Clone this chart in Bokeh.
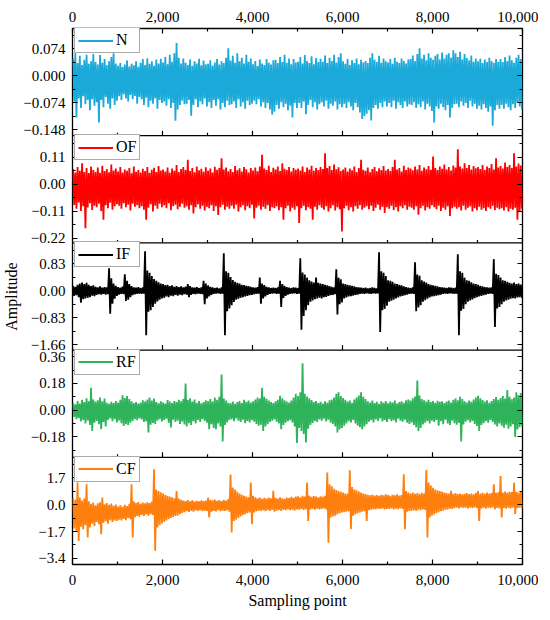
from bokeh.plotting import figure
from bokeh.models import (Range1d, LinearAxis, FixedTicker, Span, Legend, LegendItem)
from bokeh.embed import file_html
from bokeh.resources import INLINE

# ---------------- data (per-bin envelope, 50 samples per bin) -------------
N_SAMPLES = 10000
x_ticks = [0, 2000, 4000, 6000, 8000, 10000]
x_tick_labels = ["0", "2,000", "4,000", "6,000", "8,000", "10,000"]
x_minor_ticks = [1000, 3000, 5000, 7000, 9000]

names = ["N", "OF", "IF", "RF", "CF"]

N_hi = [0.048, 0.062, 0.035, 0.055, 0.030, 0.044, 0.058, 0.033, 0.040, 0.060,
        0.038, 0.031, 0.057, 0.036, 0.046, 0.029, 0.040, 0.052, 0.062, 0.034,
        0.028, 0.035, 0.024, 0.031, 0.042, 0.026, 0.033, 0.029, 0.040, 0.025,
        0.036, 0.046, 0.030, 0.048, 0.033, 0.040, 0.028, 0.045, 0.034, 0.047,
        0.037, 0.052, 0.032, 0.058, 0.039, 0.062, 0.090, 0.050, 0.034, 0.048,
        0.036, 0.030, 0.045, 0.028, 0.040, 0.034, 0.047, 0.029, 0.042, 0.032,
        0.033, 0.043, 0.028, 0.037, 0.046, 0.031, 0.040, 0.035, 0.050, 0.076,
        0.042, 0.055, 0.036, 0.062, 0.040, 0.050, 0.034, 0.058, 0.039, 0.048,
        0.032, 0.041, 0.027, 0.045, 0.034, 0.030, 0.046, 0.036, 0.031, 0.043,
        0.044, 0.035, 0.052, 0.038, 0.058, 0.036, 0.048, 0.032, 0.046, 0.037,
        0.039, 0.052, 0.034, 0.057, 0.041, 0.035, 0.054, 0.032, 0.049, 0.038,
        0.047, 0.039, 0.056, 0.035, 0.050, 0.041, 0.058, 0.037, 0.052, 0.062,
        0.040, 0.033, 0.046, 0.030, 0.043, 0.035, 0.048, 0.032, 0.044, 0.037,
        0.041, 0.035, 0.050, 0.062, 0.044, 0.038, 0.055, 0.036, 0.048, 0.040,
        0.037, 0.046, 0.033, 0.050, 0.039, 0.035, 0.048, 0.041, 0.034, 0.045,
        0.046, 0.056, 0.040, 0.060, 0.076, 0.048, 0.058, 0.043, 0.062, 0.050,
        0.044, 0.055, 0.060, 0.045, 0.064, 0.048, 0.058, 0.062, 0.050, 0.070,
        0.062, 0.052, 0.066, 0.045, 0.060, 0.049, 0.042, 0.056, 0.039, 0.048,
        0.040, 0.047, 0.035, 0.045, 0.038, 0.050, 0.041, 0.036, 0.046, 0.039,
        0.046, 0.038, 0.052, 0.041, 0.056, 0.043, 0.036, 0.050, 0.058, 0.046]
N_lo = [-0.070, -0.114, -0.062, -0.088, -0.056, -0.078, -0.066, -0.094, -0.064, -0.082,
        -0.072, -0.128, -0.066, -0.086, -0.058, -0.076, -0.090, -0.062, -0.080, -0.068,
        -0.056, -0.066, -0.050, -0.062, -0.070, -0.052, -0.064, -0.055, -0.076, -0.058,
        -0.064, -0.080, -0.060, -0.086, -0.068, -0.076, -0.062, -0.090, -0.066, -0.074,
        -0.070, -0.082, -0.064, -0.088, -0.074, -0.123, -0.092, -0.080, -0.068, -0.078,
        -0.076, -0.066, -0.109, -0.080, -0.064, -0.086, -0.070, -0.078, -0.062, -0.084,
        -0.072, -0.088, -0.066, -0.082, -0.064, -0.092, -0.074, -0.086, -0.068, -0.080,
        -0.078, -0.070, -0.088, -0.064, -0.084, -0.072, -0.090, -0.068, -0.080, -0.076,
        -0.068, -0.078, -0.064, -0.084, -0.072, -0.088, -0.074, -0.092, -0.106, -0.098,
        -0.080, -0.090, -0.072, -0.086, -0.076, -0.094, -0.082, -0.114, -0.074, -0.088,
        -0.074, -0.088, -0.070, -0.105, -0.080, -0.066, -0.086, -0.072, -0.092, -0.078,
        -0.072, -0.084, -0.068, -0.090, -0.076, -0.082, -0.070, -0.092, -0.078, -0.086,
        -0.076, -0.088, -0.072, -0.084, -0.094, -0.074, -0.086, -0.100, -0.118, -0.110,
        -0.104, -0.094, -0.122, -0.088, -0.080, -0.090, -0.074, -0.086, -0.070, -0.084,
        -0.074, -0.086, -0.068, -0.090, -0.072, -0.080, -0.088, -0.070, -0.084, -0.078,
        -0.080, -0.072, -0.088, -0.078, -0.086, -0.070, -0.092, -0.076, -0.084, -0.096,
        -0.128, -0.084, -0.090, -0.076, -0.086, -0.094, -0.080, -0.114, -0.088, -0.078,
        -0.076, -0.086, -0.070, -0.082, -0.074, -0.088, -0.068, -0.084, -0.076, -0.090,
        -0.082, -0.092, -0.078, -0.088, -0.098, -0.084, -0.137, -0.094, -0.080, -0.090,
        -0.080, -0.090, -0.076, -0.086, -0.094, -0.078, -0.088, -0.074, -0.084, -0.092]

OF_hi = [0.062, 0.048, 0.070, 0.055, 0.085, 0.050, 0.066, 0.045, 0.072, 0.058,
         0.050, 0.068, 0.046, 0.075, 0.054, 0.062, 0.049, 0.080, 0.056, 0.064,
         0.052, 0.070, 0.047, 0.060, 0.055, 0.066, 0.044, 0.072, 0.051, 0.058,
         0.048, 0.063, 0.054, 0.070, 0.046, 0.059, 0.067, 0.050, 0.074, 0.056,
         0.060, 0.052, 0.068, 0.047, 0.064, 0.055, 0.078, 0.050, 0.062, 0.070,
         0.058, 0.100, 0.054, 0.066, 0.049, 0.072, 0.057, 0.063, 0.051, 0.069,
         0.055, 0.064, 0.048, 0.071, 0.059, 0.066, 0.106, 0.060, 0.068, 0.053,
         0.062, 0.050, 0.074, 0.057, 0.065, 0.052, 0.070, 0.061, 0.048, 0.066,
         0.056, 0.068, 0.053, 0.072, 0.120, 0.064, 0.058, 0.075, 0.050, 0.067,
         0.060, 0.072, 0.054, 0.085, 0.063, 0.058, 0.070, 0.052, 0.066, 0.059,
         0.064, 0.056, 0.072, 0.050, 0.068, 0.060, 0.075, 0.055, 0.066, 0.058,
         0.070, 0.062, 0.126, 0.066, 0.074, 0.058, 0.080, 0.061, 0.069, 0.054,
         0.060, 0.068, 0.052, 0.064, 0.057, 0.072, 0.050, 0.066, 0.100, 0.059,
         0.055, 0.068, 0.049, 0.062, 0.070, 0.053, 0.065, 0.058, 0.074, 0.056,
         0.062, 0.054, 0.070, 0.100, 0.060, 0.066, 0.052, 0.075, 0.058, 0.068,
         0.064, 0.057, 0.072, 0.060, 0.078, 0.055, 0.068, 0.061, 0.074, 0.059,
         0.113, 0.066, 0.058, 0.072, 0.063, 0.080, 0.060, 0.070, 0.056, 0.076,
         0.068, 0.143, 0.072, 0.064, 0.085, 0.066, 0.078, 0.060, 0.074, 0.065,
         0.070, 0.062, 0.078, 0.058, 0.072, 0.066, 0.082, 0.060, 0.106, 0.068,
         0.074, 0.064, 0.088, 0.070, 0.078, 0.066, 0.126, 0.072, 0.084, 0.076]
OF_lo = [-0.085, -0.100, -0.075, -0.110, -0.090, -0.180, -0.095, -0.078, -0.105, -0.088,
         -0.094, -0.080, -0.110, -0.145, -0.086, -0.098, -0.076, -0.104, -0.090, -0.082,
         -0.088, -0.100, -0.078, -0.094, -0.084, -0.108, -0.080, -0.092, -0.086, -0.098,
         -0.090, -0.104, -0.145, -0.096, -0.082, -0.112, -0.088, -0.100, -0.080, -0.094,
         -0.086, -0.098, -0.078, -0.106, -0.090, -0.084, -0.102, -0.092, -0.080, -0.096,
         -0.090, -0.104, -0.086, -0.120, -0.094, -0.082, -0.100, -0.088, -0.108, -0.092,
         -0.098, -0.086, -0.110, -0.090, -0.126, -0.094, -0.084, -0.104, -0.092, -0.100,
         -0.088, -0.100, -0.084, -0.112, -0.094, -0.086, -0.106, -0.090, -0.098, -0.084,
         -0.140, -0.096, -0.088, -0.104, -0.092, -0.100, -0.086, -0.110, -0.094, -0.098,
         -0.090, -0.106, -0.094, -0.145, -0.098, -0.088, -0.112, -0.096, -0.104, -0.090,
         -0.159, -0.098, -0.088, -0.106, -0.094, -0.100, -0.145, -0.092, -0.104, -0.086,
         -0.096, -0.104, -0.090, -0.112, -0.098, -0.086, -0.108, -0.094, -0.102, -0.193,
         -0.098, -0.088, -0.106, -0.094, -0.112, -0.090, -0.100, -0.086, -0.104, -0.096,
         -0.090, -0.102, -0.088, -0.110, -0.096, -0.084, -0.104, -0.092, -0.118, -0.094,
         -0.100, -0.088, -0.106, -0.094, -0.112, -0.090, -0.098, -0.086, -0.104, -0.092,
         -0.096, -0.104, -0.090, -0.125, -0.098, -0.088, -0.108, -0.094, -0.100, -0.086,
         -0.094, -0.102, -0.088, -0.110, -0.096, -0.104, -0.090, -0.130, -0.098, -0.092,
         -0.100, -0.094, -0.108, -0.088, -0.104, -0.096, -0.090, -0.112, -0.098, -0.106,
         -0.092, -0.104, -0.098, -0.110, -0.094, -0.100, -0.088, -0.106, -0.096, -0.102,
         -0.098, -0.108, -0.094, -0.112, -0.100, -0.104, -0.096, -0.145, -0.110, -0.100]

IF_hi = [0.15, 0.12, 0.18, 0.22, 0.25, 0.20, 0.24, 0.18, 0.14, 0.16,
         0.12, 0.10, 0.13, 0.09, 0.11, 0.10, 0.69, 0.38, 0.22, 0.15,
         0.11, 0.09, 0.12, 0.50, 0.30, 0.20, 0.14, 0.10, 0.09, 0.11,
         0.08, 0.10, 1.21, 0.62, 0.55, 0.45, 0.36, 0.30, 0.26, 0.22,
         0.20, 0.17, 0.18, 0.14, 0.16, 0.12, 0.14, 0.11, 0.13, 0.10,
         0.12, 0.20, 0.14, 0.10, 0.09, 0.11, 0.08, 0.10, 0.30, 0.22,
         0.16, 0.12, 0.10, 0.08, 0.09, 0.07, 0.10, 1.15, 0.60, 0.55,
         0.42, 0.33, 0.27, 0.24, 0.22, 0.18, 0.17, 0.15, 0.14, 0.12,
         0.10, 0.09, 0.11, 0.40, 0.22, 0.17, 0.12, 0.10, 0.08, 0.09,
         0.08, 0.10, 0.30, 0.20, 0.15, 0.11, 0.09, 0.08, 0.10, 0.09,
         0.08, 1.00, 0.56, 0.50, 0.40, 0.32, 0.28, 0.25, 0.40, 0.24,
         0.22, 0.20, 0.18, 0.16, 0.14, 0.12, 0.10, 0.66, 0.40, 0.35,
         0.22, 0.20, 0.18, 0.16, 0.15, 0.13, 0.11, 0.10, 0.09, 0.08,
         0.09, 0.07, 0.08, 0.10, 0.08, 0.07, 1.18, 0.60, 0.55, 0.45,
         0.32, 0.30, 0.27, 0.22, 0.20, 0.18, 0.16, 0.13, 0.11, 0.09,
         0.08, 0.10, 0.87, 0.50, 0.46, 0.32, 0.28, 0.25, 0.20, 0.18,
         0.16, 0.15, 0.13, 0.11, 0.10, 0.09, 0.08, 0.10, 0.09, 0.08,
         0.09, 1.12, 0.60, 0.55, 0.40, 0.32, 0.30, 0.26, 0.22, 0.20,
         0.18, 0.15, 0.13, 0.11, 0.10, 0.09, 0.10, 0.97, 0.52, 0.48,
         0.40, 0.32, 0.30, 0.27, 0.24, 0.22, 0.25, 0.20, 0.22, 0.19]
IF_lo = [-0.16, -0.14, -0.20, -0.37, -0.26, -0.24, -0.22, -0.20, -0.15, -0.17,
         -0.13, -0.11, -0.12, -0.10, -0.12, -0.11, -0.71, -0.40, -0.25, -0.16,
         -0.12, -0.10, -0.11, -0.32, -0.28, -0.20, -0.14, -0.11, -0.10, -0.09,
         -0.10, -0.09, -1.37, -0.65, -0.60, -0.50, -0.40, -0.33, -0.28, -0.24,
         -0.22, -0.18, -0.20, -0.15, -0.17, -0.13, -0.15, -0.12, -0.14, -0.11,
         -0.12, -0.20, -0.13, -0.10, -0.11, -0.09, -0.10, -0.11, -0.42, -0.24,
         -0.18, -0.13, -0.10, -0.09, -0.08, -0.10, -0.09, -1.37, -0.63, -0.55,
         -0.45, -0.35, -0.28, -0.25, -0.22, -0.20, -0.18, -0.16, -0.14, -0.13,
         -0.11, -0.10, -0.09, -0.40, -0.24, -0.18, -0.13, -0.10, -0.09, -0.08,
         -0.10, -0.09, -0.50, -0.22, -0.16, -0.12, -0.10, -0.09, -0.08, -0.10,
         -0.09, -1.20, -0.78, -0.60, -0.45, -0.34, -0.30, -0.26, -0.24, -0.22,
         -0.24, -0.20, -0.19, -0.16, -0.14, -0.13, -0.11, -0.73, -0.42, -0.36,
         -0.24, -0.21, -0.18, -0.17, -0.15, -0.13, -0.12, -0.10, -0.09, -0.10,
         -0.08, -0.09, -0.10, -0.08, -0.09, -0.08, -1.27, -0.60, -0.56, -0.46,
         -0.34, -0.31, -0.28, -0.24, -0.21, -0.18, -0.16, -0.14, -0.12, -0.10,
         -0.09, -0.10, -0.63, -0.52, -0.45, -0.34, -0.29, -0.25, -0.21, -0.18,
         -0.17, -0.15, -0.14, -0.12, -0.10, -0.09, -0.10, -0.08, -0.09, -0.10,
         -0.09, -1.37, -0.62, -0.56, -0.42, -0.34, -0.30, -0.27, -0.23, -0.20,
         -0.18, -0.16, -0.14, -0.12, -0.10, -0.09, -0.10, -1.12, -0.55, -0.50,
         -0.42, -0.34, -0.30, -0.28, -0.25, -0.23, -0.24, -0.21, -0.20, -0.22]

RF_hi = [0.050, 0.040, 0.062, 0.045, 0.070, 0.055, 0.080, 0.060, 0.150, 0.072,
         0.058, 0.066, 0.085, 0.060, 0.078, 0.050, 0.042, 0.056, 0.048, 0.062,
         0.052, 0.070, 0.100, 0.082, 0.095, 0.075, 0.060, 0.048, 0.055, 0.044,
         0.050, 0.066, 0.058, 0.072, 0.085, 0.064, 0.078, 0.055, 0.046, 0.060,
         0.052, 0.044, 0.068, 0.058, 0.048, 0.062, 0.054, 0.070, 0.060, 0.075,
         0.180, 0.068, 0.080, 0.058, 0.072, 0.050, 0.062, 0.046, 0.054, 0.066,
         0.060, 0.075, 0.058, 0.085, 0.070, 0.090, 0.240, 0.078, 0.065, 0.050,
         0.046, 0.058, 0.042, 0.054, 0.062, 0.048, 0.070, 0.056, 0.064, 0.052,
         0.060, 0.072, 0.085, 0.078, 0.150, 0.090, 0.076, 0.064, 0.055, 0.048,
         0.060, 0.070, 0.097, 0.080, 0.066, 0.058, 0.052, 0.064, 0.085, 0.110,
         0.095, 0.120, 0.315, 0.110, 0.092, 0.080, 0.068, 0.055, 0.062, 0.048,
         0.056, 0.044, 0.060, 0.050, 0.066, 0.072, 0.085, 0.110, 0.120, 0.095,
         0.082, 0.070, 0.058, 0.064, 0.050, 0.072, 0.085, 0.098, 0.120, 0.090,
         0.075, 0.060, 0.052, 0.065, 0.048, 0.056, 0.042, 0.060, 0.050, 0.062,
         0.046, 0.058, 0.052, 0.064, 0.044, 0.055, 0.060, 0.050, 0.066, 0.072,
         0.064, 0.080, 0.092, 0.200, 0.098, 0.075, 0.066, 0.058, 0.070, 0.054,
         0.062, 0.050, 0.063, 0.056, 0.060, 0.048, 0.058, 0.064, 0.052, 0.070,
         0.078, 0.066, 0.090, 0.075, 0.060, 0.052, 0.064, 0.056, 0.072, 0.085,
         0.097, 0.080, 0.068, 0.058, 0.066, 0.050, 0.062, 0.075, 0.088, 0.070,
         0.082, 0.095, 0.078, 0.135, 0.090, 0.074, 0.085, 0.120, 0.100, 0.115]
RF_lo = [-0.045, -0.060, -0.052, -0.075, -0.066, -0.090, -0.070, -0.100, -0.140, -0.085,
         -0.072, -0.095, -0.128, -0.080, -0.110, -0.066, -0.055, -0.074, -0.060, -0.082,
         -0.070, -0.088, -0.106, -0.095, -0.100, -0.085, -0.072, -0.060, -0.068, -0.055,
         -0.062, -0.080, -0.075, -0.150, -0.098, -0.086, -0.092, -0.070, -0.060, -0.076,
         -0.066, -0.058, -0.084, -0.117, -0.064, -0.080, -0.070, -0.092, -0.078, -0.096,
         -0.110, -0.088, -0.100, -0.074, -0.090, -0.066, -0.080, -0.060, -0.072, -0.085,
         -0.128, -0.095, -0.120, -0.128, -0.090, -0.110, -0.210, -0.100, -0.082, -0.066,
         -0.060, -0.074, -0.056, -0.070, -0.080, -0.064, -0.088, -0.072, -0.082, -0.068,
         -0.078, -0.092, -0.105, -0.098, -0.140, -0.110, -0.094, -0.080, -0.070, -0.062,
         -0.078, -0.090, -0.128, -0.100, -0.084, -0.074, -0.068, -0.082, -0.110, -0.220,
         -0.120, -0.140, -0.160, -0.218, -0.125, -0.100, -0.086, -0.072, -0.080, -0.062,
         -0.070, -0.058, -0.076, -0.064, -0.084, -0.092, -0.110, -0.150, -0.130, -0.120,
         -0.105, -0.090, -0.074, -0.082, -0.066, -0.090, -0.105, -0.115, -0.128, -0.110,
         -0.095, -0.078, -0.068, -0.082, -0.062, -0.072, -0.056, -0.076, -0.066, -0.080,
         -0.060, -0.074, -0.068, -0.082, -0.058, -0.070, -0.078, -0.064, -0.084, -0.092,
         -0.082, -0.100, -0.115, -0.140, -0.120, -0.096, -0.084, -0.074, -0.090, -0.070,
         -0.080, -0.066, -0.105, -0.074, -0.095, -0.064, -0.090, -0.100, -0.070, -0.088,
         -0.098, -0.084, -0.210, -0.096, -0.078, -0.068, -0.082, -0.072, -0.092, -0.106,
         -0.140, -0.100, -0.088, -0.074, -0.084, -0.066, -0.080, -0.096, -0.110, -0.090,
         -0.104, -0.118, -0.098, -0.125, -0.110, -0.094, -0.180, -0.130, -0.115, -0.105]

CF_hi = [0.40, 0.30, 1.39, 0.45, 0.25, 0.38, 1.28, 0.20, 0.05, 0.12,
         -0.05, 0.08, 0.15, 0.44, 0.02, 0.10, -0.02, 0.06, -0.08, 0.00,
         -0.12, -0.05, -0.15, -0.02, -0.10, 0.05, 1.28, 0.20, 0.10, 0.15,
         0.05, 0.12, 0.08, 0.14, 0.10, 0.18, 2.23, 0.95, 0.86, 0.78,
         0.70, 0.62, 0.55, 0.50, 0.45, 0.40, 0.86, 0.38, 0.30, 0.25,
         0.22, 0.28, 0.20, 0.26, 0.18, 0.24, 0.20, 0.27, 0.22, 0.25,
         0.44, 0.30, 0.26, 0.32, 0.24, 0.28, 0.22, 0.30, 0.25, 0.35,
         1.90, 1.07, 0.95, 0.80, 0.70, 0.62, 0.55, 0.50, 0.45, 1.39,
         0.55, 0.45, 0.40, 0.44, 0.36, 0.42, 0.38, 0.44, 0.40, 0.86,
         0.42, 0.38, 0.45, 0.40, 0.36, 0.44, 0.41, 0.48, 0.43, 0.50,
         0.52, 0.46, 0.55, 0.50, 1.39, 0.56, 0.48, 0.54, 0.50, 0.46,
         0.52, 0.48, 0.55, 2.02, 1.28, 1.15, 1.00, 0.92, 0.85, 0.80,
         0.75, 0.70, 0.68, 2.16, 1.10, 0.95, 0.90, 0.82, 0.75, 0.70,
         0.66, 0.62, 0.58, 0.62, 0.56, 0.60, 0.55, 0.62, 0.58, 0.65,
         0.60, 0.55, 0.62, 0.58, 0.64, 0.56, 0.60, 1.91, 0.85, 0.76,
         0.70, 0.76, 0.68, 0.72, 0.66, 0.74, 0.70, 2.18, 1.39, 1.20,
         1.05, 0.95, 0.90, 0.85, 0.80, 0.76, 0.72, 0.70, 0.86, 0.68,
         0.72, 0.66, 0.70, 0.64, 0.68, 0.72, 0.66, 0.70, 0.65, 0.74,
         0.86, 0.70, 0.74, 0.68, 0.76, 0.70, 0.72, 1.28, 0.74, 0.78,
         1.80, 0.76, 0.82, 0.74, 0.80, 0.78, 1.39, 0.80, 0.76, 0.82]
CF_lo = [-1.50, -1.66, -2.29, -1.40, -1.55, -1.30, -2.08, -1.45, -1.20, -1.35,
         -1.10, -1.24, -1.87, -1.15, -1.05, -1.20, -0.98, -1.10, -1.00, -1.03,
         -0.95, -1.00, -0.90, -0.98, -0.85, -0.92, -2.08, -0.80, -0.71, -0.76,
         -0.66, -0.72, -0.62, -0.70, -0.60, -0.66, -2.92, -1.45, -1.30, -1.20,
         -1.10, -1.00, -0.92, -0.85, -0.78, -0.72, -0.70, -0.60, -0.52, -0.48,
         -0.42, -0.46, -0.38, -0.44, -0.36, -0.40, -0.35, -0.42, -0.38, -0.40,
         -0.82, -0.45, -0.40, -0.44, -0.36, -0.42, -0.38, -0.40, -0.35, -0.45,
         -1.76, -1.03, -0.95, -0.85, -0.75, -0.66, -0.60, -0.55, -0.50, -1.24,
         -0.50, -0.42, -0.38, -0.40, -0.35, -0.42, -0.36, -0.40, -0.33, -0.45,
         -0.38, -0.34, -0.40, -0.32, -0.36, -0.30, -0.35, -0.32, -0.38, -0.30,
         -0.32, -0.28, -0.34, -0.29, -1.03, -0.30, -0.27, -0.32, -0.26, -0.30,
         -0.28, -0.25, -0.30, -2.40, -0.82, -0.75, -0.70, -0.62, -0.55, -0.50,
         -0.48, -0.45, -0.42, -1.55, -0.70, -0.62, -0.55, -0.50, -0.45, -0.42,
         -1.03, -0.36, -0.32, -0.29, -0.30, -0.26, -0.28, -0.25, -0.30, -0.27,
         -0.28, -0.24, -0.30, -0.26, -0.29, -0.25, -0.28, -1.55, -0.45, -0.40,
         -0.38, -0.35, -0.40, -0.32, -0.36, -0.30, -0.34, -2.08, -0.82, -0.70,
         -0.62, -0.55, -0.48, -0.42, -0.38, -0.32, -0.30, -0.26, -0.28, -0.22,
         -0.20, -0.24, -0.18, -0.22, -0.19, -0.25, -0.20, -0.23, -0.18, -0.22,
         -1.03, -0.24, -0.20, -0.26, -0.19, -0.22, -0.18, -0.30, -0.21, -0.24,
         -0.82, -0.22, -0.26, -0.20, -0.24, -0.19, -0.61, -0.23, -0.20, -0.25]

# value range shown in each panel, its ticks and tick labels
y_ranges = {"N": (-0.164, 0.130), "OF": (-0.240, 0.198), "IF": (-1.83, 1.47),
            "RF": (-0.317, 0.404), "CF": (-3.78, 2.98)}
y_ticks = {"N": [-0.148, -0.074, 0.0, 0.074], "OF": [-0.22, -0.11, 0.0, 0.11],
           "IF": [-1.66, -0.83, 0.0, 0.83], "RF": [-0.18, 0.0, 0.18, 0.36],
           "CF": [-3.4, -1.7, 0.0, 1.7]}
y_tick_labels = {"N": ["\u22120.148", "\u22120.074", "0.000", "0.074"],
                 "OF": ["\u22120.22", "\u22120.11", "0.00", "0.11"],
                 "IF": ["\u22121.66", "\u22120.83", "0.00", "0.83"],
                 "RF": ["\u22120.18", "0.00", "0.18", "0.36"],
                 "CF": ["\u22123.4", "\u22121.7", "0.0", "1.7"]}
y_minor_ticks = {"N": [-0.111, -0.037, 0.037, 0.111], "OF": [-0.165, -0.055, 0.055, 0.165],
                 "IF": [-1.245, -0.415, 0.415, 1.245], "RF": [-0.27, -0.09, 0.09, 0.27],
                 "CF": [-2.55, -0.85, 0.85, 2.55]}
colors = {"N": "#1aa9d9", "OF": "#ff0000", "IF": "#000000", "RF": "#2fb35a", "CF": "#ff7f0e"}
series = {"N": (N_hi, N_lo), "OF": (OF_hi, OF_lo), "IF": (IF_hi, IF_lo),
          "RF": (RF_hi, RF_lo), "CF": (CF_hi, CF_lo)}

FONT = "Liberation Serif"
NP = len(names)
FRAME_W, PANEL_H = 450, 107.2
FRAME_H = int(round(PANEL_H * NP))


def zigzag(hi, lo):
    w = N_SAMPLES / len(hi)
    xs, ys = [], []
    for i, (h, l) in enumerate(zip(hi, lo)):
        xs += [w * i + w * 0.25, w * i + w * 0.75]
        ys += [h, l]
    return xs, ys


def band_pos(k, v):
    """position of value v of panel k on the shared 0..NP panel axis"""
    lo, hi = y_ranges[names[k]]
    return (NP - 1 - k) + (v - lo) / (hi - lo)


p = figure(frame_width=FRAME_W, frame_height=FRAME_H,
           x_range=Range1d(0, N_SAMPLES), y_range=Range1d(0, NP),
           x_axis_location=None, y_axis_location=None,
           output_backend="svg", toolbar_location=None,
           min_border_left=69, min_border_right=16, min_border_top=28, min_border_bottom=40)
p.grid.visible = False
p.outline_line_color = "black"
p.outline_line_width = 1.3
p.background_fill_color = "white"
p.border_fill_color = "white"


def style_axis(ax):
    ax.major_tick_in = 5
    ax.major_tick_out = 0
    ax.minor_tick_in = 3
    ax.minor_tick_out = 0
    ax.axis_line_color = None
    ax.major_tick_line_color = "black"
    ax.minor_tick_line_color = "black"
    ax.major_tick_line_width = 1.2
    ax.minor_tick_line_width = 1.2
    ax.major_label_text_font = FONT
    ax.major_label_text_color = "black"
    ax.major_label_text_font_size = "15px"


# x axes
top = LinearAxis(ticker=FixedTicker(ticks=x_ticks, minor_ticks=x_minor_ticks))
style_axis(top)
top.major_label_overrides = dict(zip(x_ticks, x_tick_labels))
top.major_label_standoff = 7
p.add_layout(top, "above")

bot = LinearAxis(ticker=FixedTicker(ticks=x_ticks, minor_ticks=x_minor_ticks))
style_axis(bot)
bot.major_label_overrides = dict(zip(x_ticks, x_tick_labels))
bot.major_label_standoff = 10
bot.axis_label = "Sampling point"
bot.axis_label_text_font = FONT
bot.axis_label_text_font_style = "normal"
bot.axis_label_text_font_size = "16px"
bot.axis_label_text_color = "black"
bot.axis_label_standoff = 4
p.add_layout(bot, "below")

# y axes: one shared axis carrying the ticks of every panel
ytk, ylab, ymin = [], {}, []
for k, name in enumerate(names):
    for t, lab in zip(y_ticks[name], y_tick_labels[name]):
        pos = band_pos(k, t)
        ytk.append(pos)
        ylab[pos] = lab
    ymin += [band_pos(k, t) for t in y_minor_ticks[name]]

left = LinearAxis(ticker=FixedTicker(ticks=ytk, minor_ticks=ymin))
style_axis(left)
left.major_label_overrides = ylab
left.major_label_standoff = 7
left.axis_label = "Amplitude"
left.axis_label_text_font = FONT
left.axis_label_text_font_style = "normal"
left.axis_label_text_font_size = "16px"
left.axis_label_text_color = "black"
left.axis_label_standoff = 0
p.add_layout(left, "left")

right = LinearAxis(ticker=FixedTicker(ticks=ytk, minor_ticks=ymin))
style_axis(right)
right.major_label_overrides = {t: "" for t in ytk}
right.major_label_text_font_size = "0px"
right.major_label_standoff = 0
p.add_layout(right, "right")

# panel separators and their inward x ticks (pointing into the upper panel)
tick_x0, tick_y0, tick_y1 = [], [], []
for b in range(1, NP):
    p.add_layout(Span(location=b, dimension="width", line_color="black", line_width=1.3))
    for t in x_ticks:
        tick_x0.append(t); tick_y0.append(b); tick_y1.append(b + 5 / PANEL_H)
    for t in x_minor_ticks:
        tick_x0.append(t); tick_y0.append(b); tick_y1.append(b + 3 / PANEL_H)
p.segment(x0=tick_x0, y0=tick_y0, x1=tick_x0, y1=tick_y1, line_color="black", line_width=1.2)

# signals: each panel has its own value range, mapped onto its band of the frame
LEG_H = 23
for k, name in enumerate(names):
    lo, hi = y_ranges[name]
    span = hi - lo
    p.extra_y_ranges[name] = Range1d(lo - (NP - 1 - k) * span, hi + k * span)
    xs, ys = zigzag(*series[name])
    r = p.line(xs, ys, line_color=colors[name], line_width=1.8, y_range_name=name)
    lg = Legend(items=[LegendItem(label=name, renderers=[r])],
                location=(2, FRAME_H - k * PANEL_H - 2 - LEG_H))
    lg.margin = 0
    lg.padding = 3
    lg.spacing = 0
    lg.label_standoff = 3
    lg.glyph_width = 35
    lg.glyph_height = 15
    lg.label_height = 15
    lg.label_text_font = FONT
    lg.label_text_font_size = "16px"
    lg.label_text_color = "black"
    lg.border_line_color = "#555555"
    lg.border_line_width = 1
    lg.background_fill_alpha = 1.0
    p.add_layout(lg, "center")

open("out.html", "w").write(file_html(p, INLINE))
